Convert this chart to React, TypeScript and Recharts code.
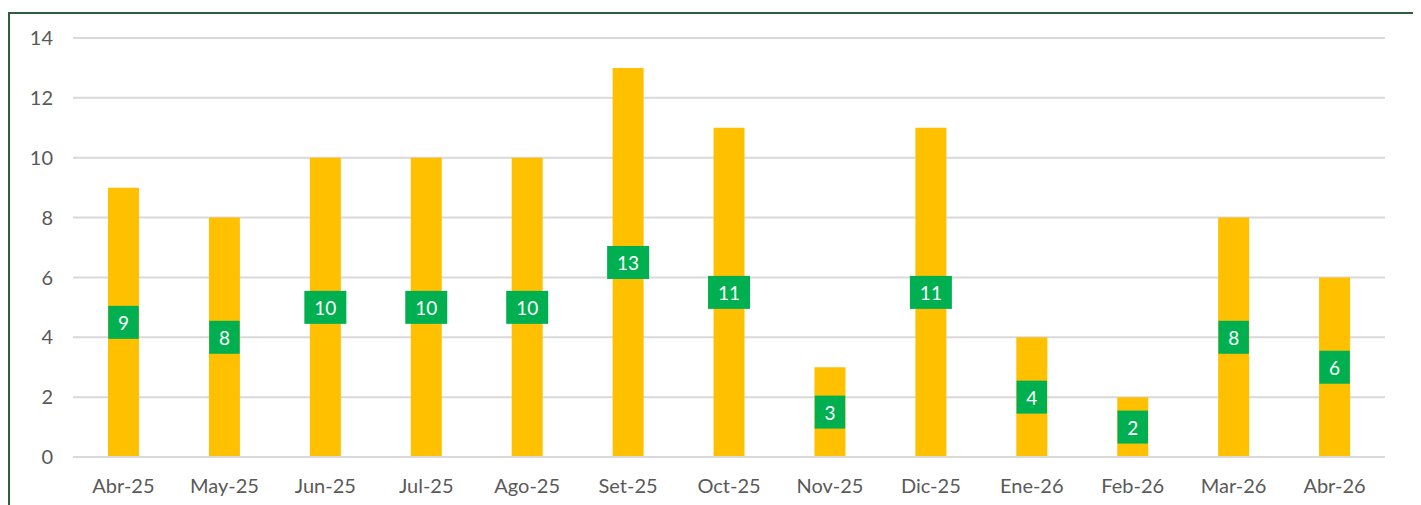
import React from 'react';
import { ComposedChart, Bar, XAxis, YAxis, CartesianGrid, LabelList } from 'recharts';

const months = ['Abr-25', 'May-25', 'Jun-25', 'Jul-25', 'Ago-25', 'Set-25', 'Oct-25', 'Nov-25', 'Dic-25', 'Ene-26', 'Feb-26', 'Mar-26', 'Abr-26'];
const counts = [9, 8, 10, 10, 10, 13, 11, 3, 11, 4, 2, 8, 6];
const yTicks = [0, 2, 4, 6, 8, 10, 12, 14];

const data = months.map((m, i) => ({ month: m, value: counts[i] }));

const FONT = 'Lato, "Open Sans", sans-serif';

function GreenLabel(props: any) {
  const { x, y, width, height, value } = props;
  const cx = x + width / 2;
  const cy = y + height / 2;
  const text = String(value);
  const w = text.length * 11.5 + 19;
  const h = 33;
  return (
    <g>
      <rect x={cx - w / 2} y={cy - h / 2} width={w} height={h} fill="#00B050" />
      <text
        x={cx}
        y={cy}
        fill="#ffffff"
        fontSize={19}
        fontFamily={FONT}
        textAnchor="middle"
        dominantBaseline="central"
      >
        {text}
      </text>
    </g>
  );
}

export default function App() {
  return (
    <div style={{ paddingTop: 4 }}>
      <div
        style={{
          width: 1404,
          height: 500,
          border: '2px solid #2F5F3A',
          background: '#fff',
        }}
      >
        <ComposedChart
          width={1404}
          height={493}
          data={data}
          margin={{ top: 24, right: 29, bottom: 0, left: 0 }}
        >
          <CartesianGrid vertical={false} stroke="#D9D9D9" strokeWidth={2} />
          <XAxis
            dataKey="month"
            axisLine={{ stroke: '#D9D9D9', strokeWidth: 2 }}
            tickLine={false}
            tickSize={0}
            tickMargin={22}
            height={50}
            interval={0}
            tick={{ fill: '#595959', fontSize: 20, fontFamily: FONT }}
          />
          <YAxis
            domain={[0, 14]}
            ticks={yTicks}
            axisLine={false}
            tickLine={false}
            tickSize={0}
            tickMargin={20}
            width={63}
            tick={{ fill: '#595959', fontSize: 20, fontFamily: FONT }}
          />
          <Bar dataKey="value" fill="#FFC000" barSize={31} isAnimationActive={false}>
            <LabelList dataKey="value" content={GreenLabel} />
          </Bar>
        </ComposedChart>
      </div>
    </div>
  );
}
